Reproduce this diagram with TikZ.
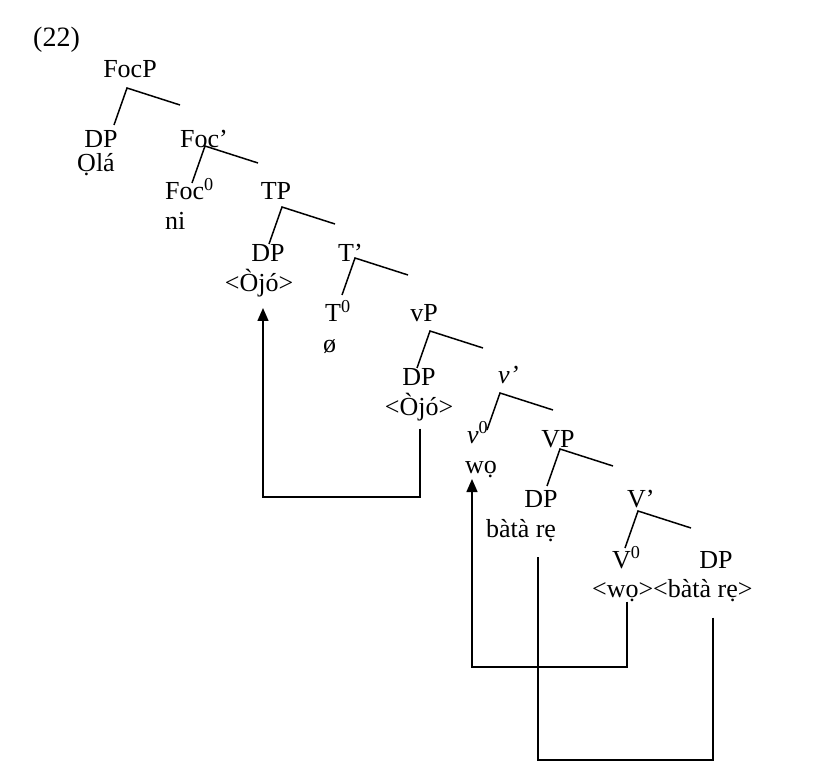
\documentclass[tikz,border=0pt]{standalone}
\usepackage{fontspec}
\setmainfont{Liberation Serif}
\usetikzlibrary{arrows.meta,calc}

\begin{document}
\begin{tikzpicture}[
  x=1pt,y=-1pt,
  font=\fontsize{26}{30}\selectfont,
  lbl/.style={anchor=base,inner sep=0pt},
  lblw/.style={anchor=base west,inner sep=0pt},
  branch/.style={line width=1.5pt,black},
  move/.style={line width=1.5pt,black},
  arr/.style={move,-{Triangle[length=13pt,width=11pt]}},
]
\useasboundingbox (0,0) rectangle (827,783);

% ===== labels =====
\node[lblw,font=\fontsize{28}{32}\selectfont] (ex) at (33,47) {(22)};
\node[lbl] (FocP) at (130,78) {FocP};
\node[lbl] (dpOla) at (101,148) {DP};
\node[lbl] (Ola) at (96,172) {Ọlá};
\node[lblw] (FocBar) at (180,148) {Foc’};
\node[lblw] (FocHead) at (165,200) {Foc\textsuperscript{0}};
\node[lblw] (ni) at (165,230) {ni};
\node[lbl] (TP) at (276,200) {TP};
\node[lbl] (dpT) at (268,262) {DP};
\node[lbl] (OjoA) at (259,292) {<Òjó>};
\node[lblw] (TBar) at (338,262) {T’};
\node[lblw] (THead) at (325,322) {T\textsuperscript{0}};
\node[lblw] (null) at (323,353) {ø};
\node[lbl] (vP) at (424,322) {vP};
\node[lbl] (dpv) at (419,385) {DP};
\node[lbl] (OjoB) at (419,415) {<Òjó>};
\node[lblw] (vBar) at (498,383) {\textit{v’}};
\node[lblw] (vHead) at (467,443) {\textit{v}\textsuperscript{0}};
\node[lblw] (woA) at (465,473) {wọ};
\node[lbl] (VP) at (558,447) {VP};
\node[lbl] (dpV) at (541,507) {DP};
\node[lbl] (bataA) at (521,537) {bàtà rẹ};
\node[lblw] (VBar) at (627,507) {V’};
\node[lblw] (VHead) at (612,568) {V\textsuperscript{0}};
\node[lbl] (dpObj) at (716,568) {DP};
\node[lblw] (woB) at (592,597) {<wọ>};
\node[lblw] (bataB) at (653,597) {<bàtà rẹ>};

% ===== branches =====
\foreach \n/\x/\y in {bFocP/127/88, bFocBar/205/146, bTP/282/207, bTBar/355/258,
                      bvP/430/331, bvBar/500/393, bVP/560/449, bVBar/638/511}{
  \coordinate (\n) at (\x,\y);
  \draw[branch] ($(\n)+(-13,37)$) -- (\n) -- ($(\n)+(53,17)$);
}

% ===== movement =====
\coordinate (bendA) at (263,497);
\coordinate (tipA) at (263,308);
\draw[arr] ([xshift=1pt,yshift=-8pt]OjoB.south) |- (bendA) -- (tipA);

\coordinate (bendB) at (472,667);
\coordinate (tipB) at (472,479);
\draw[arr] ([xshift=4pt]woB.south) |- (bendB) -- (tipB);

\coordinate (bendC) at (538,760);
\coordinate (endC) at (538,557);
\draw[move] ([xshift=10pt,yshift=-16pt]bataB.south) |- (bendC) -- (endC);
\end{tikzpicture}
\end{document}
